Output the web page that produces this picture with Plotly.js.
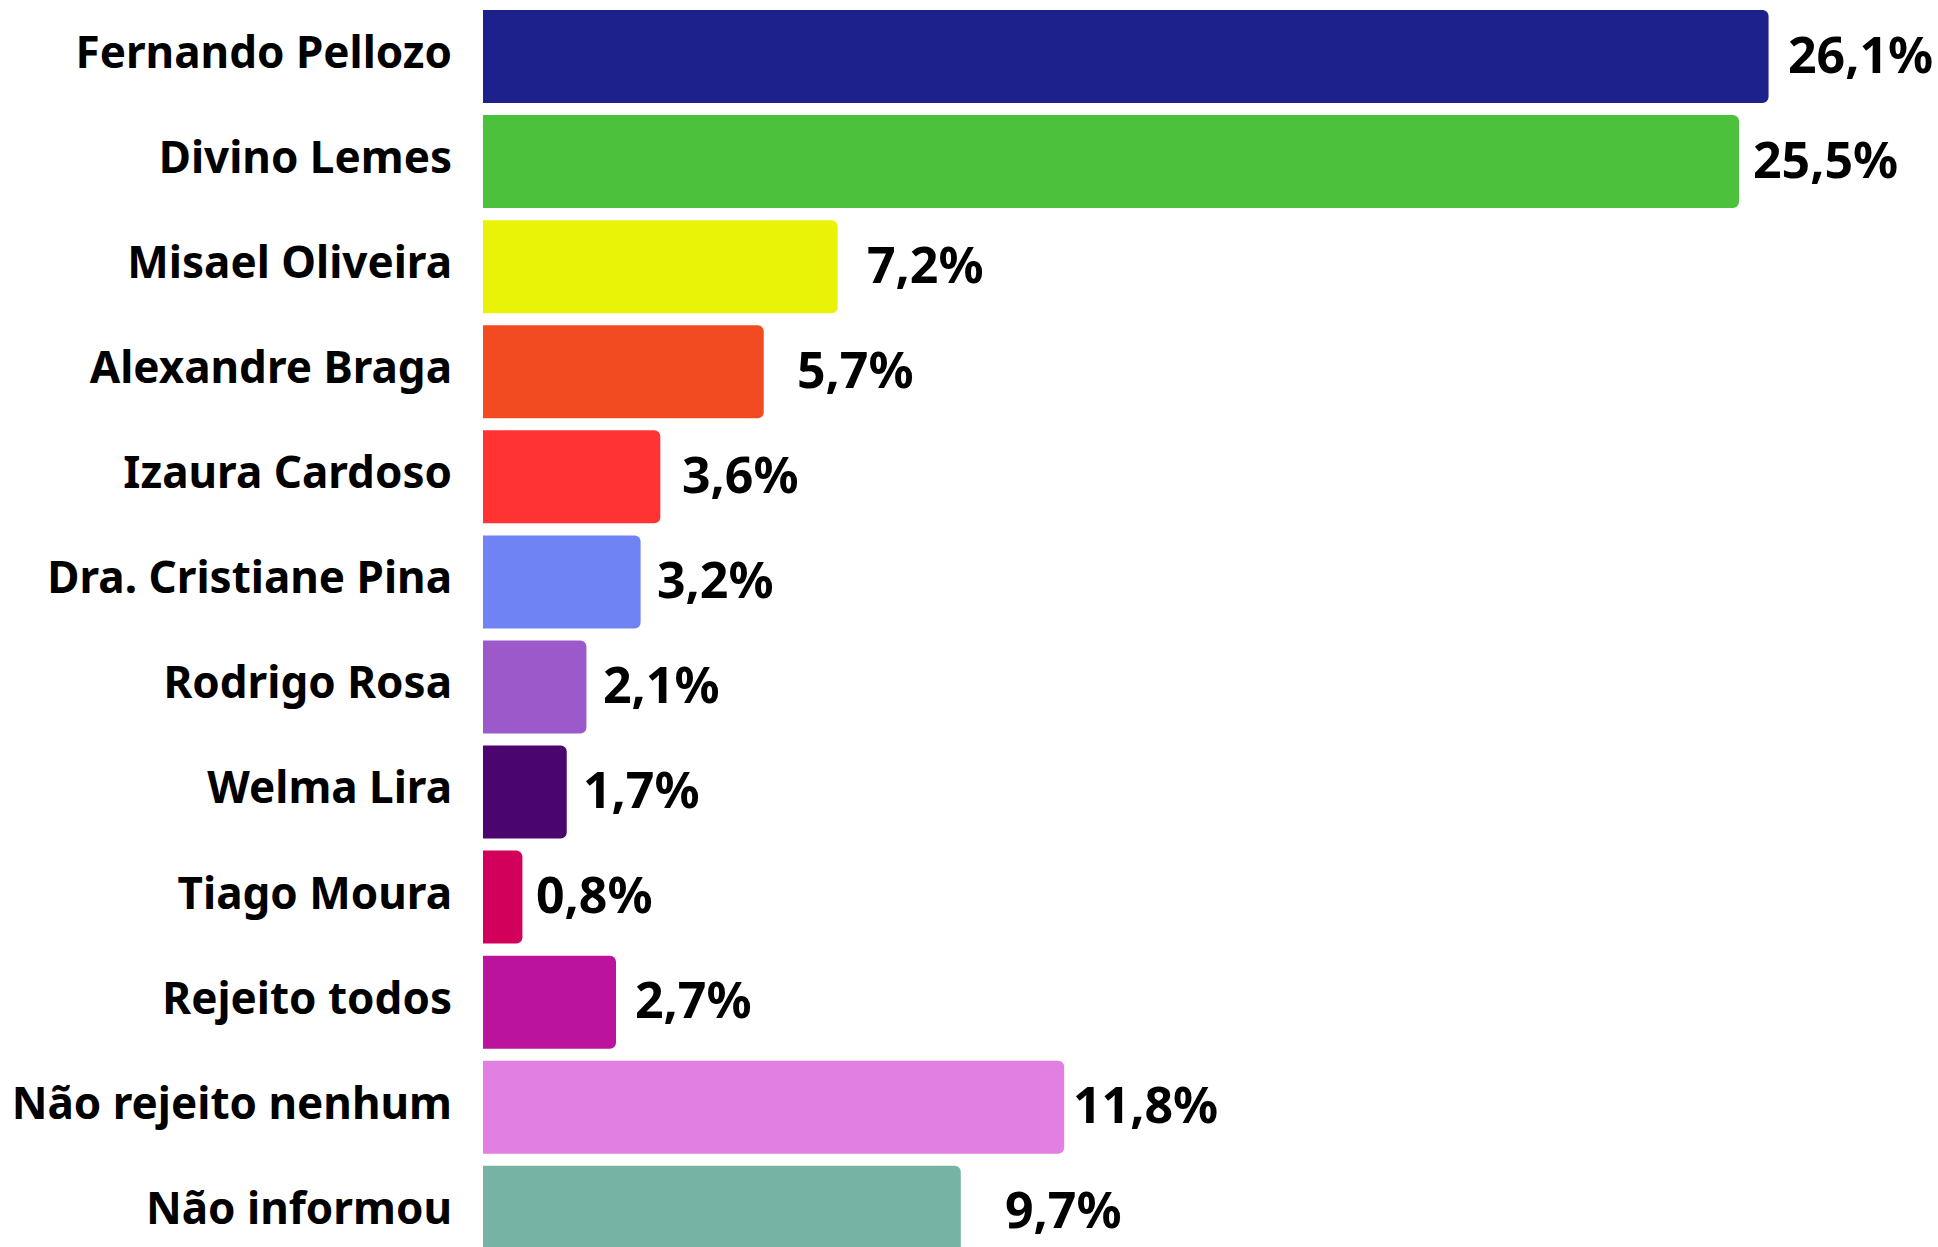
<!DOCTYPE html>
<html>
<head>
<meta charset="utf-8">
<script src="https://cdn.plot.ly/plotly-3.0.1.min.js"></script>
<style>
html,body{margin:0;padding:0;background:#fff;overflow:hidden;}
#chart{width:1938px;height:1247px;}
</style>
</head>
<body>
<div id="chart"></div>
<script>
const categories = ["Fernando Pellozo","Divino Lemes","Misael Oliveira","Alexandre Braga","Izaura Cardoso","Dra. Cristiane Pina","Rodrigo Rosa","Welma Lira","Tiago Moura","Rejeito todos","Não rejeito nenhum","Não informou"];
const values = [26.1, 25.5, 7.2, 5.7, 3.6, 3.2, 2.1, 1.7, 0.8, 2.7, 11.8, 9.7];
const colors = ["#1d218b","#4cc13b","#e9f307","#f24b22","#ff3333","#7083f4","#9b59c9","#4a056e","#d3005b","#bb139c","#e27fe2","#77b3a5"];
const labelGaps = [17, 12, 27, 31, 20, 14, 15, 14, 12, 17, 7, 42];

const labels = values.map(v => v.toFixed(1).replace('.', ',') + '%');

const trace = {
  type: 'bar',
  orientation: 'h',
  y: categories,
  x: values,
  marker: {color: colors, cornerradius: 6},
  hoverinfo: 'none'
};

const annotations = categories.map((c, i) => ({
  x: values[i], y: c, xref: 'x', yref: 'y',
  text: labels[i], showarrow: false,
  xanchor: 'left', yanchor: 'middle', xshift: labelGaps[i], yshift: 3,
  font: {family: 'Noto Sans', size: 50, color: '#000', weight: 700}
}));

const layout = {
  width: 1938, height: 1247,
  margin: {l: 483, r: 0, t: 4, b: 0, pad: 0},
  paper_bgcolor: '#fff', plot_bgcolor: '#fff',
  bargap: 0.115,
  showlegend: false,
  xaxis: {range: [0, 29.54], visible: false, fixedrange: true},
  yaxis: {
    type: 'category', categoryorder: 'array', categoryarray: categories,
    range: [11.33, -0.5], showgrid: false, zeroline: false, showline: false,
    ticks: '', ticklabelstandoff: 30, ticklabelshift: 4,
    tickfont: {family: 'Noto Sans', size: 44, color: '#000', weight: 700},
    fixedrange: true
  },
  annotations: annotations
};

Plotly.newPlot('chart', [trace], layout, {staticPlot: true, displayModeBar: false});
</script>
</body>
</html>
